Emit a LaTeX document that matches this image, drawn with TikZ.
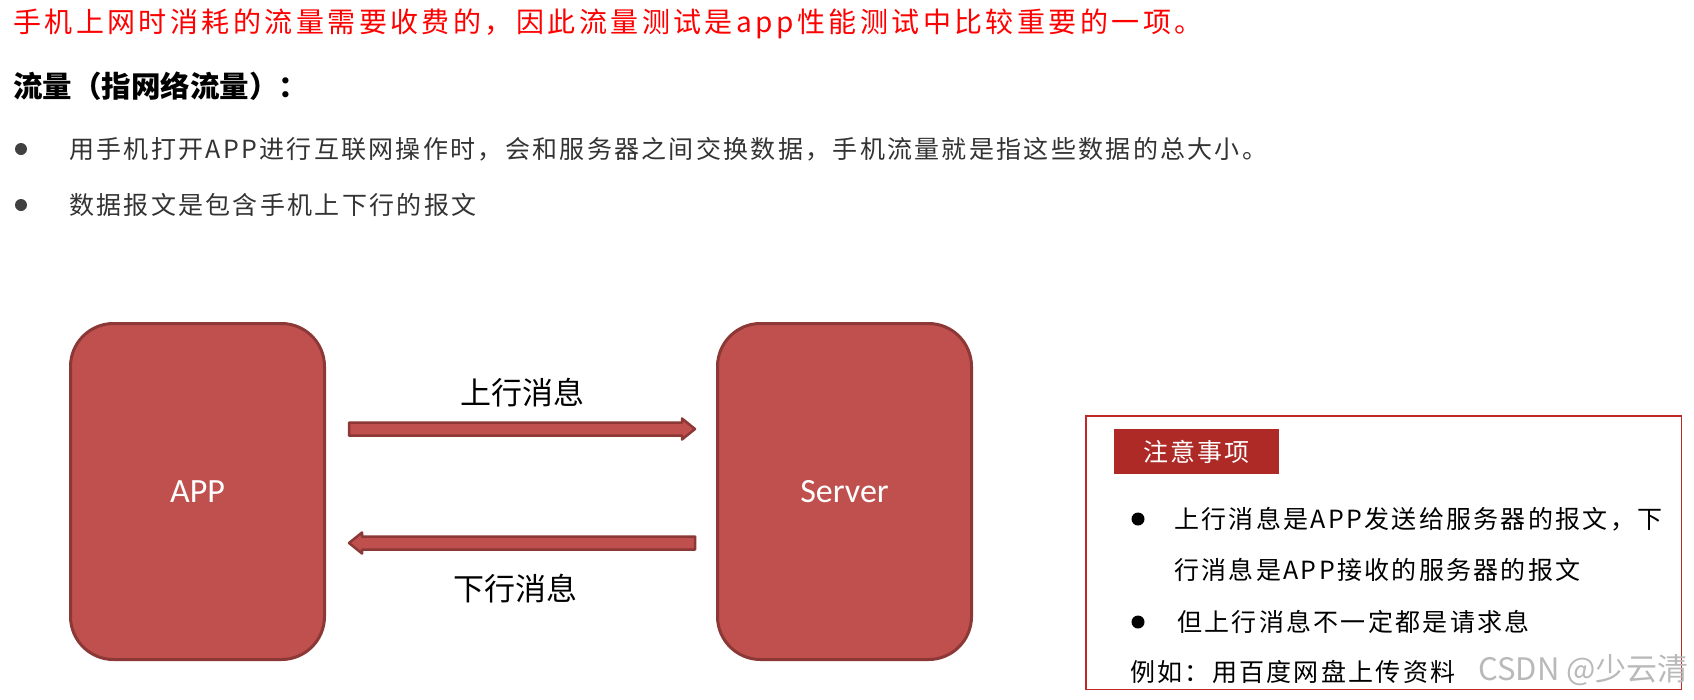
\documentclass[tikz,border=0pt]{standalone}
\usepackage{fontspec}
\setmainfont{Carlito}
\newfontfamily\cjk{Noto Sans CJK SC}
\newfontfamily\cjktitle{Noto Sans CJK SC}[LetterSpace=12.3]
\newfontfamily\cjkbody{Noto Sans CJK SC}[LetterSpace=9.2]
\usetikzlibrary{calc}
\definecolor{boxfill}{HTML}{C0504D}
\definecolor{boxline}{HTML}{8C3836}
\definecolor{notered}{HTML}{C0282A}
\definecolor{headred}{HTML}{AD2A26}
\definecolor{txtgray}{HTML}{333333}
\definecolor{dotgray}{HTML}{404040}
\begin{document}
\begin{tikzpicture}[x=1pt,y=-1pt,
  bigbox/.style={draw=boxline, fill=boxfill, line width=3pt, rounded corners=43pt,
    minimum width=254pt, minimum height=336pt, inner sep=0pt,
    text=white, font=\fontsize{34pt}{40pt}\selectfont},
  arrlabel/.style={font=\cjk\fontsize{31pt}{34pt}\selectfont, inner sep=0pt},
  blockarr/.style={draw=boxline, fill=boxfill, line width=2.5pt, line join=round},
  bodytext/.style={anchor=west, inner sep=0pt, text=txtgray, font=\cjkbody\fontsize{25pt}{28pt}\selectfont},
  notetext/.style={anchor=west, inner sep=0pt, text=black, font=\cjkbody\fontsize{25pt}{28pt}\selectfont},
  graydot/.style={circle, fill=dotgray, minimum size=12pt, inner sep=0pt},
  blackdot/.style={circle, fill=black, minimum size=13pt, inner sep=0pt}]
\useasboundingbox (0,0) rectangle (1694,699);

% top texts
\node[anchor=west, inner sep=0pt, text=red, font=\cjktitle\fontsize{28pt}{30pt}\selectfont] (title) at (13,24)
  {手机上网时消耗的流量需要收费的，因此流量测试是app性能测试中比较重要的一项。};
\node[anchor=west, inner sep=0pt, text=black, font=\cjk\bfseries\fontsize{29.5pt}{32pt}\selectfont] (head) at (13,86)
  {流量（指网络流量）：};
\node[graydot] (b1) at (21,149) {};
\node[bodytext] (t1) at (69,149) {用手机打开APP进行互联网操作时，会和服务器之间交换数据，手机流量就是指这些数据的总大小。};
\node[graydot] (b2) at (21,205) {};
\node[bodytext] (t2) at (69,205) {数据报文是包含手机上下行的报文};

% boxes
\node[bigbox] (app) at (197.5,491.5) {APP};
\node[bigbox] (server) at (844.5,491.5) {Server};

\coordinate (u1) at ($(app.east)+(23,-62.5)$);
\coordinate (u2) at ($(server.west)+(-21,-62.5)$);
\coordinate (d1) at ($(server.west)+(-21,51.5)$);
\coordinate (d2) at ($(app.east)+(23,51.5)$);

\draw[blockarr] ($(u1)+(0,-6.5)$) -- ($(u2)+(-13,-6.5)$) -- ($(u2)+(-13,-10.5)$) -- (u2)
  -- ($(u2)+(-13,10.5)$) -- ($(u2)+(-13,6.5)$) -- ($(u1)+(0,6.5)$) -- cycle;
\draw[blockarr] ($(d1)+(0,-6.5)$) -- ($(d2)+(13,-6.5)$) -- ($(d2)+(13,-10.5)$) -- (d2)
  -- ($(d2)+(13,10.5)$) -- ($(d2)+(13,6.5)$) -- ($(d1)+(0,6.5)$) -- cycle;

\node[arrlabel] (uplbl) at (522,393) {上行消息};
\node[arrlabel] (downlbl) at (515,589) {下行消息};

% note box
\node[draw=notered, line width=1.5pt, minimum width=595.5pt, minimum height=273.5pt, inner sep=0pt] (note) at (1383.5,552.5) {};
\node[fill=headred, minimum width=165pt, minimum height=45pt, inner sep=0pt, text=white,
  font=\cjkbody\fontsize{25pt}{28pt}\selectfont] (hdr) at (1196.5,451.5) {注意事项};
\node[blackdot] (nb1) at (1138,519) {};
\node[notetext] (n1) at (1174,519) {上行消息是APP发送给服务器的报文，下};
\node[notetext] (n2) at (1174,570) {行消息是APP接收的服务器的报文};
\node[blackdot] (nb2) at (1138,622) {};
\node[notetext] (n3) at (1177,622) {但上行消息不一定都是请求息};
\node[notetext] (n4) at (1130,672) {例如：用百度网盘上传资料};
\node[anchor=east, inner sep=0pt, text=gray!55, font=\cjk\fontsize{31pt}{34pt}\selectfont] (wm) at (1689,670) {CSDN @少云清};
\end{tikzpicture}
\end{document}
